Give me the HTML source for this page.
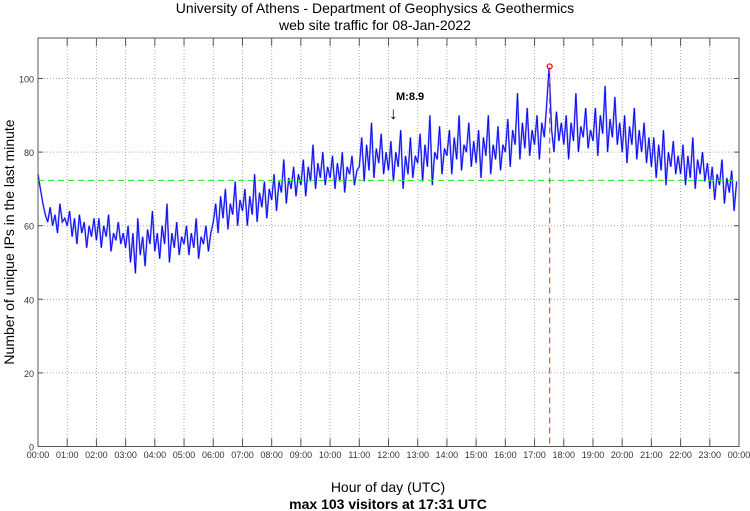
<!DOCTYPE html>
<html><head><meta charset="utf-8"><style>
body{margin:0;background:#fff;}
svg{display:block;font-family:"Liberation Sans",sans-serif;}
</style></head><body>
<svg id="chart" width="750" height="511">
<text x="375" y="13" font-size="14" text-anchor="middle">University of Athens - Department of Geophysics &amp; Geothermics</text>
<text x="375" y="30" font-size="14" text-anchor="middle">web site traffic for 08-Jan-2022</text>
<text transform="translate(14,242) rotate(-90)" font-size="14" text-anchor="middle">Number of unique IPs in the last minute</text>
<text x="388" y="492" font-size="14" text-anchor="middle">Hour of day (UTC)</text>
<text x="388" y="509" font-size="14" font-weight="bold" text-anchor="middle">max 103 visitors at 17:31 UTC</text>
<g id="grid"></g>
<g id="series"></g>
<g id="overlay"></g>
<rect x="38" y="38" width="701" height="408.5" fill="none" stroke="#555" stroke-width="1"/>
<g id="ticks"></g>
</svg>
<script>
const yTicks=[0,20,40,60,80,100];
const xTickLabels=["00:00","01:00","02:00","03:00","04:00","05:00","06:00","07:00","08:00","09:00","10:00","11:00","12:00","13:00","14:00","15:00","16:00","17:00","18:00","19:00","20:00","21:00","22:00","23:00","00:00"];
const meanValue=72.3;
const peakValue=103;
const peakHour=17+31/60;
const stepMinutes=5;
const visitors=[
74,70,66,63,61,65,60,63,58,66,61,62,
60,64,57,62,55,63,58,61,54,60,57,62,
56,62,54,60,57,63,53,58,56,61,55,58,
54,60,50,58,47,62,52,57,49,59,55,64,
53,58,51,60,55,66,50,58,54,61,52,57,
55,60,52,58,54,62,51,57,55,60,53,58,
61,66,58,68,62,70,59,66,63,72,60,67,
64,70,60,68,63,74,61,69,65,72,62,70,
67,74,64,72,69,78,66,73,70,76,68,74,
71,78,68,76,72,82,70,77,73,80,71,76,
73,79,70,77,72,80,69,76,74,79,71,75,
76,84,72,82,75,88,73,81,77,85,74,80,
75,83,72,80,76,86,70,79,74,84,73,79,
77,85,72,82,76,90,71,80,78,87,74,81,
79,86,74,84,78,90,75,82,80,88,76,83,
77,86,73,84,79,90,74,82,78,87,75,82,
80,89,76,86,82,96,78,88,81,92,79,86,
82,90,78,88,84,93,103,86,80,91,83,88,
82,90,78,88,83,96,80,87,84,92,81,86,
83,92,79,90,85,98,80,89,84,95,82,88,
80,90,77,87,82,92,78,86,80,88,77,84,
76,84,73,82,75,86,71,80,76,83,74,79,
74,82,71,79,73,84,70,78,74,80,72,77,
70,76,67,74,71,78,66,73,69,75,64,72];
const NS="http://www.w3.org/2000/svg";
const X0=38,X1=739,Y0=446.5,YPER=3.68;
function xs(h){return X0+(X1-X0)*h/24;}
function ys(v){return Y0-v*YPER;}
function mk(tag,attrs,parent){const e=document.createElementNS(NS,tag);for(const k in attrs)e.setAttribute(k,attrs[k]);parent.appendChild(e);return e;}
const grid=document.getElementById('grid'),ticks=document.getElementById('ticks'),series=document.getElementById('series'),ov=document.getElementById('overlay');
yTicks.forEach(v=>{
  const y=ys(v);
  if(v>0){const l=mk('line',{x1:X0,x2:X1,y1:y,y2:y,stroke:'#aaa','stroke-dasharray':'1,2'},grid);
  
  }
  mk('line',{x1:X0,x2:X0+5,y1:y,y2:y,stroke:'#555'},ticks);
  mk('line',{x1:X1-5,x2:X1,y1:y,y2:y,stroke:'#555'},ticks);
  const t=mk('text',{x:X0-4,y:y+4,'font-size':9,'text-anchor':'end',fill:'#333'},ticks);
  t.textContent=v;
  
  
});
xTickLabels.forEach((lab,i)=>{
  const x=xs(i);
  if(i>0&&i<24){const l=mk('line',{x1:x,x2:x,y1:38,y2:Y0,stroke:'#aaa','stroke-dasharray':'1,2'},grid);
  
  }
  mk('line',{x1:x,x2:x,y1:Y0-8,y2:Y0,stroke:'#555'},ticks);
  mk('line',{x1:x,x2:x,y1:38,y2:46,stroke:'#555'},ticks);
  const t=mk('text',{x:x,y:458,'font-size':9,'text-anchor':'middle',fill:'#333'},ticks);
  t.textContent=lab;
  
  
});
let pts=visitors.map((v,i)=>xs(i*stepMinutes/60).toFixed(1)+','+ys(v).toFixed(1)).join(' ');
const band=mk('polyline',{points:pts,fill:'none',stroke:'#8080ff','stroke-width':1.8,'stroke-linejoin':'miter'},series);


const line=mk('polyline',{points:pts,fill:'none',stroke:'#0000ee','stroke-width':0.8},series);


const mean=mk('line',{x1:X0,x2:X1,y1:ys(meanValue),y2:ys(meanValue),stroke:'#33ee33','stroke-width':1.2,'stroke-dasharray':'6,4'},ov);


const px=xs(peakHour);
const pl=mk('line',{x1:px,x2:px,y1:ys(peakValue),y2:Y0,stroke:'#ff4444','stroke-width':1.2,'stroke-dasharray':'6,4'},ov);


const pc=mk('circle',{cx:px,cy:ys(peakValue)-1,r:2.5,fill:'none',stroke:'#ee0000','stroke-width':1.2},ov);


const mt=mk('text',{x:396,y:100,'font-size':11,'font-weight':'bold'},ov);
mt.textContent='M:8.9';


const ma=mk('text',{x:389,y:119,'font-size':17},ov);
ma.textContent='↓';


</script>
</body></html>
